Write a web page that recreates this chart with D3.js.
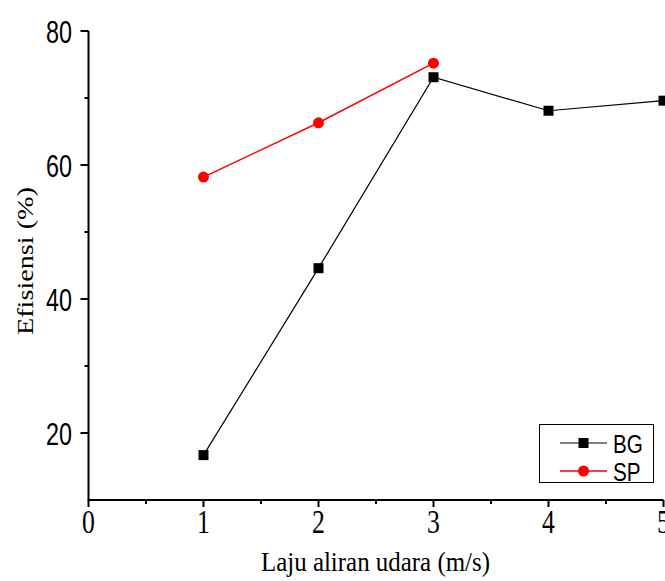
<!DOCTYPE html>
<html><head><meta charset="utf-8">
<script src="https://cdn.jsdelivr.net/npm/d3@7/dist/d3.min.js"></script>
<style>body{margin:0;background:#fff}svg{display:block}</style>
</head><body>
<script>
const xValues = [1, 2, 3, 4, 5];
const bgValues = [16.7, 44.6, 73.1, 68.1, 69.6];
const spX = [1, 2, 3];
const spValues = [58.2, 66.3, 75.2];
const xTicks = [0, 1, 2, 3, 4, 5];
const yTicks = [20, 40, 60, 80];
const seriesNames = ["BG", "SP"];

const W = 665, H = 581;
const svg = d3.select("body").append("svg").attr("width", W).attr("height", H);
const x = d3.scaleLinear().domain([0, 5]).range([88.5, 663.5]);
const y = d3.scaleLinear().domain([10, 80]).range([500, 31]);

function sText(g, txt, px, py, size, family, sx, anchor) {
  return g.append("text").attr("transform", `translate(${px},${py}) scale(${sx},1)`)
    .attr("text-anchor", anchor).attr("font-family", family).attr("font-size", size)
    .attr("fill", "#000").text(txt);
}

// axes
const axG = svg.append("g");
axG.append("line").attr("x1", x(0)).attr("x2", x(5)).attr("y1", y(10)).attr("y2", y(10)).attr("stroke", "#000").attr("stroke-width", 2);
axG.append("line").attr("x1", x(0)).attr("x2", x(0)).attr("y1", y(10)+1).attr("y2", y(80)).attr("stroke", "#000").attr("stroke-width", 2);

// x ticks
xTicks.forEach(t => {
  axG.append("line").attr("x1", x(t)).attr("x2", x(t)).attr("y1", y(10)).attr("y2", y(10)+7).attr("stroke", "#000").attr("stroke-width", 2);
  sText(axG, String(t), x(t), 533, 33, "Liberation Serif, Times New Roman, serif", 0.78, "middle");
});
d3.range(0.5, 5, 1).forEach(t => {
  axG.append("line").attr("x1", x(t)).attr("x2", x(t)).attr("y1", y(10)).attr("y2", y(10)+4).attr("stroke", "#000").attr("stroke-width", 2);
});
// y ticks
yTicks.forEach(t => {
  axG.append("line").attr("x1", x(0)-8).attr("x2", x(0)).attr("y1", y(t)).attr("y2", y(t)).attr("stroke", "#000").attr("stroke-width", 2);
  sText(axG, String(t), 72, y(t)+11.5, 32, "Liberation Sans, Arial, sans-serif", 0.73, "end");
});
[30, 50, 70].forEach(t => {
  axG.append("line").attr("x1", x(0)-4).attr("x2", x(0)).attr("y1", y(t)).attr("y2", y(t)).attr("stroke", "#000").attr("stroke-width", 2);
});

// titles
svg.append("text").attr("x", 375.5).attr("y", 571).attr("text-anchor", "middle")
  .attr("font-family", "Liberation Serif, Times New Roman, serif").attr("font-size", 27)
  .attr("textLength", 229).attr("lengthAdjust", "spacingAndGlyphs").text("Laju aliran udara (m/s)");
svg.append("text").attr("transform", "translate(33,261) rotate(-90)").attr("text-anchor", "middle")
  .attr("font-family", "Liberation Serif, Times New Roman, serif").attr("font-size", 24)
  .attr("textLength", 148).attr("lengthAdjust", "spacingAndGlyphs").text("Efisiensi (%)");

// series
const line = d3.line().x(d => x(d[0])).y(d => y(d[1]));
const bg = xValues.map((v, i) => [v, bgValues[i]]);
const sp = spX.map((v, i) => [v, spValues[i]]);
svg.append("path").attr("d", line(bg)).attr("fill", "none").attr("stroke", "#000").attr("stroke-width", 1.2);
svg.append("path").attr("d", line(sp)).attr("fill", "none").attr("stroke", "#f00").attr("stroke-width", 1.5);
svg.selectAll(".sq").data(bg).enter().append("rect")
  .attr("x", d => x(d[0]) - 5).attr("y", d => y(d[1]) - 5).attr("width", 10).attr("height", 10).attr("fill", "#000");
svg.selectAll(".ci").data(sp).enter().append("circle")
  .attr("cx", d => x(d[0])).attr("cy", d => y(d[1])).attr("r", 5.5).attr("fill", "#f00");

// legend
const lg = svg.append("g");
lg.append("rect").attr("x", 539.5).attr("y", 424.5).attr("width", 114).attr("height", 58).attr("fill", "#fff").attr("stroke", "#000").attr("stroke-width", 1);
const colors = ["#000", "#f00"];
seriesNames.forEach((n, i) => {
  const ly = 443 + i * 28;
  lg.append("line").attr("x1", 560).attr("x2", 607).attr("y1", ly).attr("y2", ly).attr("stroke", colors[i]).attr("stroke-width", i ? 1.5 : 1.2);
  if (i === 0) lg.append("rect").attr("x", 578.5).attr("y", ly - 5).attr("width", 10).attr("height", 10).attr("fill", "#000");
  else lg.append("circle").attr("cx", 583.5).attr("cy", ly).attr("r", 5.5).attr("fill", "#f00");
  sText(lg, n, 613, ly + 9.5, 26.5, "Liberation Sans, Arial, sans-serif", 0.78, "start");
});
</script>
</body></html>
